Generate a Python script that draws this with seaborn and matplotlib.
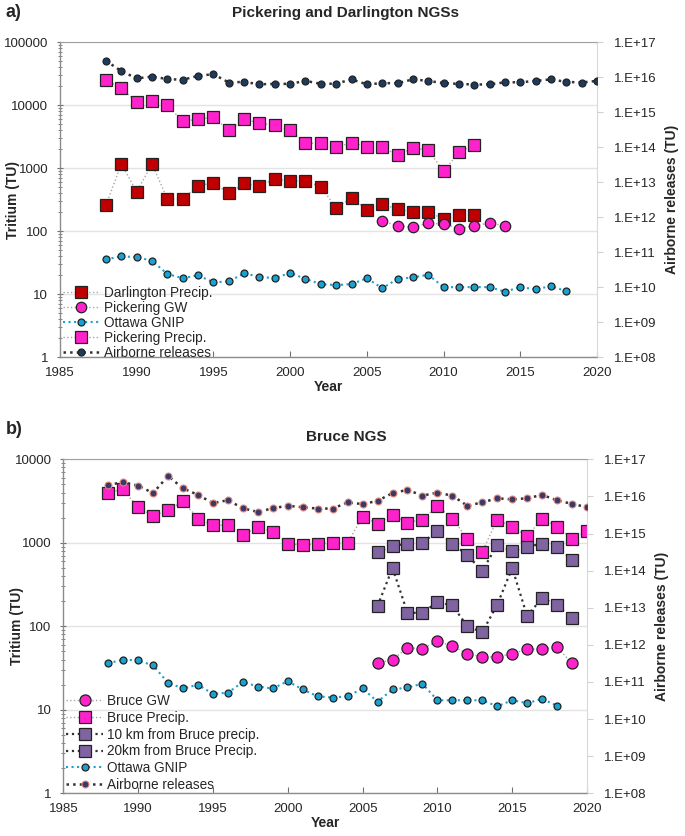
import numpy as np
import pandas as pd
import matplotlib
matplotlib.use("Agg")
import matplotlib.pyplot as plt
import matplotlib.ticker as mticker
import seaborn as sns

sns.set_style("white")
plt.rcParams['font.family'] = ['Liberation Sans', 'DejaVu Sans']

# ---------------- data ----------------
yrs_88_12 = list(range(1988, 2013))
pickering_precip = [25100, 18600, 11200, 11700, 10000, 5600, 6000, 6500, 4000, 6000,
                    5200, 4800, 4000, 2500, 2500, 2150, 2550, 2200, 2200, 1600,
                    2100, 1950, 890, 1800, 2350]
darlington_precip = [263, 1170, 425, 1170, 325, 330, 525, 590, 400, 575,
                     525, 675, 630, 630, 510, 235, 340, 220, 270, 225,
                     200, 205, 155, 180, 180]
yrs_06_14 = list(range(2006, 2015))
pickering_gw = [145, 123, 115, 135, 130, 110, 123, 135, 123]

yrs_88_18 = list(range(1988, 2019))
ottawa_gnip = [36, 40, 39, 34, 21, 18, 20, 15.5, 16, 21.5, 19, 18, 22, 17.5, 14.5,
               14, 14.5, 18, 12.5, 17.5, 18.5, 20.5, 13, 13, 13, 13, 11, 13, 12,
               13.5, 11.2]

yrs_88_20 = list(range(1988, 2021))
airborne_pd = [2.95e16, 1.5e16, 9.3e15, 1.05e16, 8.9e15, 8.5e15, 1.1e16, 1.23e16,
               7.1e15, 7.4e15, 6.3e15, 6.5e15, 6.5e15, 7.9e15, 6.5e15, 6.6e15,
               8.7e15, 6.3e15, 6.8e15, 6.8e15, 8.7e15, 7.9e15, 6.8e15, 6.5e15,
               6.2e15, 6.3e15, 7.2e15, 7.2e15, 7.9e15, 8.7e15, 7.4e15, 7.1e15, 7.9e15]

airborne_bruce = [2.05e16, 2.4e16, 1.95e16, 1.23e16, 3.55e16, 1.65e16, 1.1e16, 6.6e15,
                  7.9e15, 4.8e15, 3.8e15, 4.8e15, 5.6e15, 5.1e15, 4.7e15, 4.7e15,
                  6.9e15, 6.2e15, 7.6e15, 1.23e16, 1.5e16, 1.05e16, 1.26e16, 1.05e16,
                  5.6e15, 6.9e15, 8.9e15, 8.3e15, 8.9e15, 1.1e16, 7.8e15, 6.3e15, 5.1e15]
bruce_precip = [4000, 4350, 2650, 2100, 2450, 3150, 1950, 1620, 1620, 1230, 1550,
                1350, 980, 930, 980, 1000, 1000, 2050, 1700, 2150, 1750, 1900,
                2750, 1950, 1120, 780, 1900, 1550, 1200, 1950, 1550, 1120, 1380]
yrs_06_19 = list(range(2006, 2020))
km10_precip = [780, 910, 980, 1000, 1380, 980, 710, 460, 950, 800, 890, 980, 890, 630]
km20_precip = [175, 500, 145, 145, 195, 178, 100, 85, 182, 500, 132, 220, 178, 126]
bruce_gw = [36, 40, 55, 54, 66, 58, 47, 43, 43, 47, 53, 54, 56, 36]

# colours
RED = '#C00000'
MAG = '#FF22CC'
CYAN = '#1BA1CF'
NAVY = '#1F3A5F'
PURP = '#8064A2'
GREYLINE = '#A6A6A6'


def series(ax, x, y, label, marker, ms, mfc, ls, lc, lw=1.0, mec='#222222', mew=0.9):
    sns.lineplot(x=x, y=y, ax=ax, label=label, marker=marker, markersize=ms,
                 markerfacecolor=mfc, markeredgecolor=mec, markeredgewidth=mew,
                 color=lc, linestyle=ls, linewidth=lw, legend=False)


def fmt_right(v, pos):
    return "1.E+%02d" % int(round(np.log10(v)))


def style_axes(ax, ax2, ymin, ymax):
    ax.set_yscale('log')
    ax.set_ylim(ymin, ymax)
    ax.set_xlim(1985, 2020)
    ax.set_xticks(range(1985, 2021, 5))
    ax.yaxis.set_major_formatter(mticker.FuncFormatter(lambda v, p: "%d" % v))
    ax.yaxis.set_minor_locator(mticker.LogLocator(base=10, subs=np.arange(2, 10)))
    ax.yaxis.set_minor_formatter(mticker.NullFormatter())
    ax.grid(axis='y', which='major', color='#E3E3E3', linewidth=1.0)
    ax.set_axisbelow(True)
    ax.tick_params(axis='y', which='major', direction='inout', length=5, color='#707070',
                   labelsize=9.5, left=True, pad=6)
    ax.tick_params(axis='y', which='minor', direction='inout', length=3, color='#707070', left=True)
    ax.tick_params(axis='x', direction='in', length=4, color='#707070', labelsize=9.5,
                   bottom=True, pad=7)
    ax.set_xlabel('Year', fontsize=10, fontweight='bold', labelpad=1)
    ax.set_ylabel('Tritium (TU)', fontsize=10, fontweight='bold')
    ax.yaxis.set_label_coords(-0.075, 0.5)
    for s in ['left', 'bottom']:
        ax.spines[s].set_color('#8C8C8C')
        ax.spines[s].set_linewidth(1.0)
    ax.spines['top'].set_color('#A0A0A0')
    ax.spines['right'].set_color('#D9D9D9')

    ax2.set_yscale('log')
    ax2.set_ylim(1e8, 1e17)
    ax2.yaxis.set_major_locator(mticker.LogLocator(base=10, numticks=20))
    ax2.yaxis.set_minor_locator(mticker.NullLocator())
    ax2.yaxis.set_major_formatter(mticker.FuncFormatter(fmt_right))
    ax2.tick_params(axis='y', direction='out', length=4, color='#D0D0D0', labelsize=9.5,
                    right=True, pad=8)
    ax2.set_ylabel('Airborne releases (TU)', fontsize=10, fontweight='bold', labelpad=6)
    for s in ax2.spines.values():
        s.set_visible(False)


fig = plt.figure(figsize=(6.85, 8.36), dpi=100)

# ================= panel a =================
axa = fig.add_axes([0.0876, 0.5726, 0.7839, 0.3768])
axa2 = axa.twinx()
series(axa, yrs_88_12, darlington_precip, 'Darlington Precip.', 's', 8, RED, ':', GREYLINE)
series(axa, yrs_06_14, pickering_gw, 'Pickering GW', 'o', 7.5, MAG, ':', GREYLINE)
series(axa, yrs_88_18, ottawa_gnip, 'Ottawa GNIP', 'o', 5, CYAN, ':', CYAN, lw=1.5)
series(axa, yrs_88_12, pickering_precip, 'Pickering Precip.', 's', 8, MAG, ':', GREYLINE)
series(axa2, yrs_88_20, airborne_pd, 'Airborne releases', 'o', 5, NAVY, ':', '#333333', lw=1.8)
style_axes(axa, axa2, 1, 100000)
h1, l1 = axa.get_legend_handles_labels()
h2, l2 = axa2.get_legend_handles_labels()
axa2.legend(h1 + h2, l1 + l2, loc='lower left', bbox_to_anchor=(-0.01, -0.035),
            frameon=False, fontsize=9.8, labelspacing=0.08, handlelength=2.7,
            handletextpad=0.3, borderaxespad=0.2)

fig.text(0.008, 0.985, 'a)', fontsize=13, fontweight='bold', va='center')
fig.text(0.505, 0.985, 'Pickering and Darlington NGSs', fontsize=11, fontweight='bold',
         ha='center', va='center')

# ================= panel b =================
axb = fig.add_axes([0.0924, 0.0511, 0.7646, 0.3995])
axb2 = axb.twinx()
series(axb, yrs_06_19, bruce_gw, 'Bruce GW', 'o', 8, MAG, ':', GREYLINE)
series(axb, yrs_88_20, bruce_precip, 'Bruce Precip.', 's', 8, MAG, ':', GREYLINE)
series(axb, yrs_06_19, km10_precip, '10 km from Bruce precip.', 's', 8, PURP, ':', '#333333', lw=1.6)
series(axb, yrs_06_19, km20_precip, '20km from Bruce Precip.', 's', 8, PURP, ':', '#333333', lw=1.6)
series(axb, yrs_88_18, ottawa_gnip, 'Ottawa GNIP', 'o', 5, CYAN, ':', CYAN, lw=1.5)
series(axb2, yrs_88_20, airborne_bruce, 'Airborne releases', 'o', 5, '#3A3A6A', ':', '#333333',
       lw=1.8, mec='#E58A7A', mew=0.8)
style_axes(axb, axb2, 1, 10000)
h1, l1 = axb.get_legend_handles_labels()
h2, l2 = axb2.get_legend_handles_labels()
axb2.legend(h1 + h2, l1 + l2, loc='lower left', bbox_to_anchor=(-0.01, -0.02),
            frameon=False, fontsize=9.8, labelspacing=0.2, handlelength=2.7,
            handletextpad=0.3, borderaxespad=0.2)

fig.text(0.008, 0.486, 'b)', fontsize=13, fontweight='bold', va='center')
fig.text(0.505, 0.477, 'Bruce NGS', fontsize=11, fontweight='bold', ha='center', va='center')

fig.savefig('out.png', dpi=100)
